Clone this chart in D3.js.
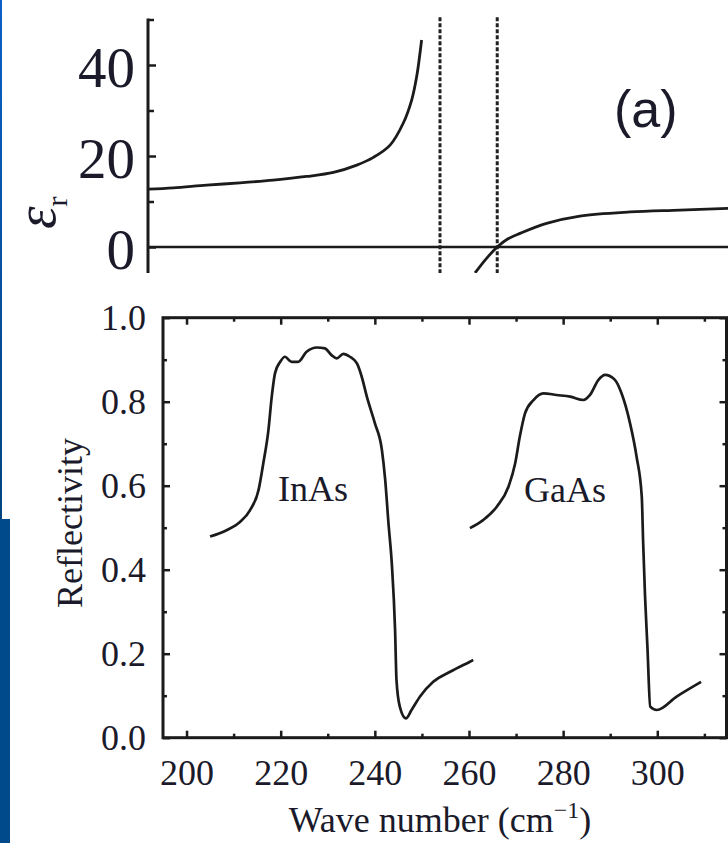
<!DOCTYPE html>
<html><head><meta charset="utf-8">
<script src="https://cdn.jsdelivr.net/npm/d3@7"></script>
<style>html,body{margin:0;padding:0;background:#fff;} svg{display:block;}</style>
</head><body>
<svg id="c" width="728" height="843"></svg>
<script>
// ---- Panel (b): reflectivity spectra ----
const inasWave = [205.0,208.5,211.4,213.5,215.3,216.3,217.4,218.1,218.8,219.9,220.9,222.3,223.7,225.5,227.7,229.4,230.8,231.9,233.3,234.7,236.2,237.2,238.3,240.0,241.5,242.2,242.9,243.6,244.3,244.6,245.3,246.6,247.8,249.6,252.4,256.0,260.2,260.9];
const inasRefl = [0.479,0.494,0.514,0.542,0.590,0.653,0.733,0.812,0.868,0.895,0.907,0.895,0.895,0.919,0.929,0.927,0.911,0.903,0.914,0.907,0.891,0.860,0.812,0.749,0.685,0.614,0.510,0.415,0.256,0.137,0.074,0.046,0.066,0.098,0.133,0.157,0.181,0.185];
const gaasWave = [260.2,263.0,265.9,268.4,269.8,270.8,271.9,273.7,275.8,278.6,281.5,284.3,285.7,287.5,288.9,291.0,292.4,294.2,295.6,296.7,297.0,297.4,297.9,298.5,299.9,304.1,309.3];
const gaasRefl = [0.499,0.518,0.550,0.598,0.653,0.717,0.772,0.804,0.820,0.816,0.812,0.804,0.816,0.852,0.864,0.852,0.820,0.749,0.669,0.574,0.463,0.336,0.217,0.074,0.066,0.098,0.133];
const seriesLabels = ["InAs","GaAs"];
const xTicksMajor = [200,220,240,260,280,300];
const xTicksMinor = [210,230,250,270,290,310];
const yTicksMajor = [0,0.2,0.4,0.6,0.8,1.0];
const yTicksMinor = [0.1,0.3,0.5,0.7,0.9];
const xTitle = "Wave number (cm";
const yTitle = "Reflectivity";

// ---- Panel (a): dielectric function (normalized frequency ω/ω_TO) ----
const epsLowW  = [0,0.087,0.201,0.315,0.429,0.543,0.635,0.715,0.772,0.829,0.874,0.903,0.920,0.937];
const epsLow   = [12.7,13.0,13.6,14.1,14.7,15.5,16.4,18.0,19.7,22.4,27.2,32.3,37.4,45.5];
const epsHighW = [1.120,1.158,1.196,1.233,1.274,1.365,1.479,1.651,1.822,1.990];
const epsHigh  = [-5.7,-2.6,0,1.8,3.0,5.2,6.8,7.7,8.1,8.5];
const resonances = [1.0,1.196];
const epsTicksMajor = [0,20,40];
const epsTicksMinor = [10,30,50];

const svg = d3.select("#c");
const ink = "#1b1b1b";
const txt = "#1a1a2a";
const serif = "Liberation Serif";
const sans = "Liberation Sans";

const defs = svg.append("defs");
const g = defs.append("linearGradient").attr("id","blue").attr("x1",0).attr("y1",0).attr("x2",0).attr("y2",1);
g.append("stop").attr("offset","0%").attr("stop-color","#0a60c6");
g.append("stop").attr("offset","100%").attr("stop-color","#00447f");
defs.append("clipPath").attr("id","clipA").append("rect").attr("x",0).attr("y",0).attr("width",728).attr("height",273);

// ===== Panel (a) =====
const xa = d3.scaleLinear().domain([0,2]).range([148,732]);
const ya = d3.scaleLinear().domain([0,40]).range([247,65]);
const pa = svg.append("g").attr("clip-path","url(#clipA)");

pa.append("line").attr("x1",xa(0)).attr("x2",728).attr("y1",ya(0)).attr("y2",ya(0))
  .attr("stroke",ink).attr("stroke-width",2.5);
resonances.forEach(r=>{
  pa.append("line").attr("x1",xa(r)).attr("x2",xa(r)).attr("y1",ya(50.5)).attr("y2",280)
    .attr("stroke","#222").attr("stroke-width",3).attr("stroke-dasharray","4,2");
});
const lineA = d3.line().x(d=>xa(d[0])).y(d=>ya(d[1])).curve(d3.curveCatmullRom.alpha(0.5));
pa.append("path").attr("d",lineA(epsLowW.map((w,i)=>[w,epsLow[i]])))
  .attr("fill","none").attr("stroke",ink).attr("stroke-width",2.8);
pa.append("path").attr("d",lineA(epsHighW.map((w,i)=>[w,epsHigh[i]])))
  .attr("fill","none").attr("stroke",ink).attr("stroke-width",2.8);

const axA = pa.append("g").attr("transform",`translate(${xa(0)},0)`)
  .call(d3.axisLeft(ya).tickValues(epsTicksMajor).tickSize(-8).tickPadding(13));
axA.attr("font-family",serif).attr("font-size",57);
axA.select(".domain").remove();
axA.selectAll("line").attr("stroke",ink).attr("stroke-width",2.5);
axA.selectAll("text").attr("fill",txt).attr("dy","0.37em");
const axAm = pa.append("g").attr("transform",`translate(${xa(0)},0)`)
  .call(d3.axisLeft(ya).tickValues(epsTicksMinor).tickSize(-6).tickFormat(""));
axAm.select(".domain").remove();
axAm.selectAll("line").attr("stroke",ink).attr("stroke-width",2.5);
pa.append("line").attr("x1",xa(0)).attr("x2",xa(0)).attr("y1",ya(50)-1).attr("y2",280)
  .attr("stroke",ink).attr("stroke-width",3);

const epsLab = svg.append("text").attr("transform","translate(55,229) rotate(-90)")
  .attr("font-family",serif).attr("fill",txt);
epsLab.append("tspan").attr("font-size",57).attr("font-style","italic").text("ε");
epsLab.append("tspan").attr("font-size",30).attr("dy",12).text("r");

svg.append("text").attr("x",614).attr("y",127).attr("font-family",sans).attr("font-size",52)
  .attr("fill",txt).text("(a)");

// ===== Panel (b) =====
const x = d3.scaleLinear().domain([195,314.7]).range([163,726.5]);
const y = d3.scaleLinear().domain([0,1]).range([737.7,317.7]);

const pb = svg.append("g");
function addAxis(axis, tr, vals, size, fmt){
  const a = pb.append("g").attr("transform",tr).call(axis.tickValues(vals).tickSize(size).tickFormat(fmt));
  a.attr("font-family",serif).attr("font-size",36);
  a.select(".domain").remove();
  a.selectAll("line").attr("stroke",ink).attr("stroke-width",2.5);
  return a;
}
const fmtY = d3.format(".1f");
const bx = addAxis(d3.axisBottom(x), `translate(0,${y(0)})`, xTicksMajor, -7, d3.format("d"));
bx.selectAll("text").attr("fill",txt).attr("dy",0).attr("y",47);
addAxis(d3.axisBottom(x), `translate(0,${y(0)})`, xTicksMinor, -4, "");
addAxis(d3.axisTop(x), `translate(0,${y(1)})`, xTicksMajor, -7, "");
addAxis(d3.axisTop(x), `translate(0,${y(1)})`, xTicksMinor, -4, "");
const by = addAxis(d3.axisLeft(y), `translate(${x(195)},0)`, yTicksMajor, -7, fmtY);
by.selectAll("text").attr("fill",txt).attr("x",-17).attr("dy","0.34em");
addAxis(d3.axisLeft(y), `translate(${x(195)},0)`, yTicksMinor, -4, "");
addAxis(d3.axisRight(y), `translate(${x(314.7)},0)`, yTicksMajor, -7, "");
addAxis(d3.axisRight(y), `translate(${x(314.7)},0)`, yTicksMinor, -4, "");

pb.append("rect").attr("x",x(195)).attr("y",y(1)).attr("width",x(314.7)-x(195)).attr("height",y(0)-y(1))
  .attr("fill","none").attr("stroke",ink).attr("stroke-width",3);

const lineB = d3.line().x(d=>x(d[0])).y(d=>y(d[1])).curve(d3.curveMonotoneX);
[[inasWave,inasRefl],[gaasWave,gaasRefl]].forEach(([w,r])=>{
  pb.append("path").attr("d",lineB(w.map((v,i)=>[v,r[i]])))
    .attr("fill","none").attr("stroke",ink).attr("stroke-width",2.7).attr("stroke-linejoin","round");
});

pb.append("text").attr("x",278).attr("y",501).attr("font-family",serif).attr("font-size",36).attr("fill",txt).text(seriesLabels[0]);
pb.append("text").attr("x",524).attr("y",502).attr("font-family",serif).attr("font-size",36).attr("fill",txt).text(seriesLabels[1]);

const xt = pb.append("text").attr("x",440).attr("y",832).attr("text-anchor","middle")
  .attr("font-family",serif).attr("font-size",36).attr("fill",txt);
xt.append("tspan").text(xTitle);
xt.append("tspan").attr("font-size",24).attr("dy",-14).text("−1");
xt.append("tspan").attr("dy",14).text(")");

pb.append("text").attr("transform","translate(82,523) rotate(-90)").attr("text-anchor","middle")
  .attr("font-family",serif).attr("font-size",36).attr("fill",txt).text(yTitle);

svg.append("rect").attr("x",0).attr("y",0).attr("width",2).attr("height",519).attr("fill","url(#blue)");
svg.append("rect").attr("x",0).attr("y",519).attr("width",10).attr("height",324).attr("fill","#004a8c");
</script>
</body></html>
